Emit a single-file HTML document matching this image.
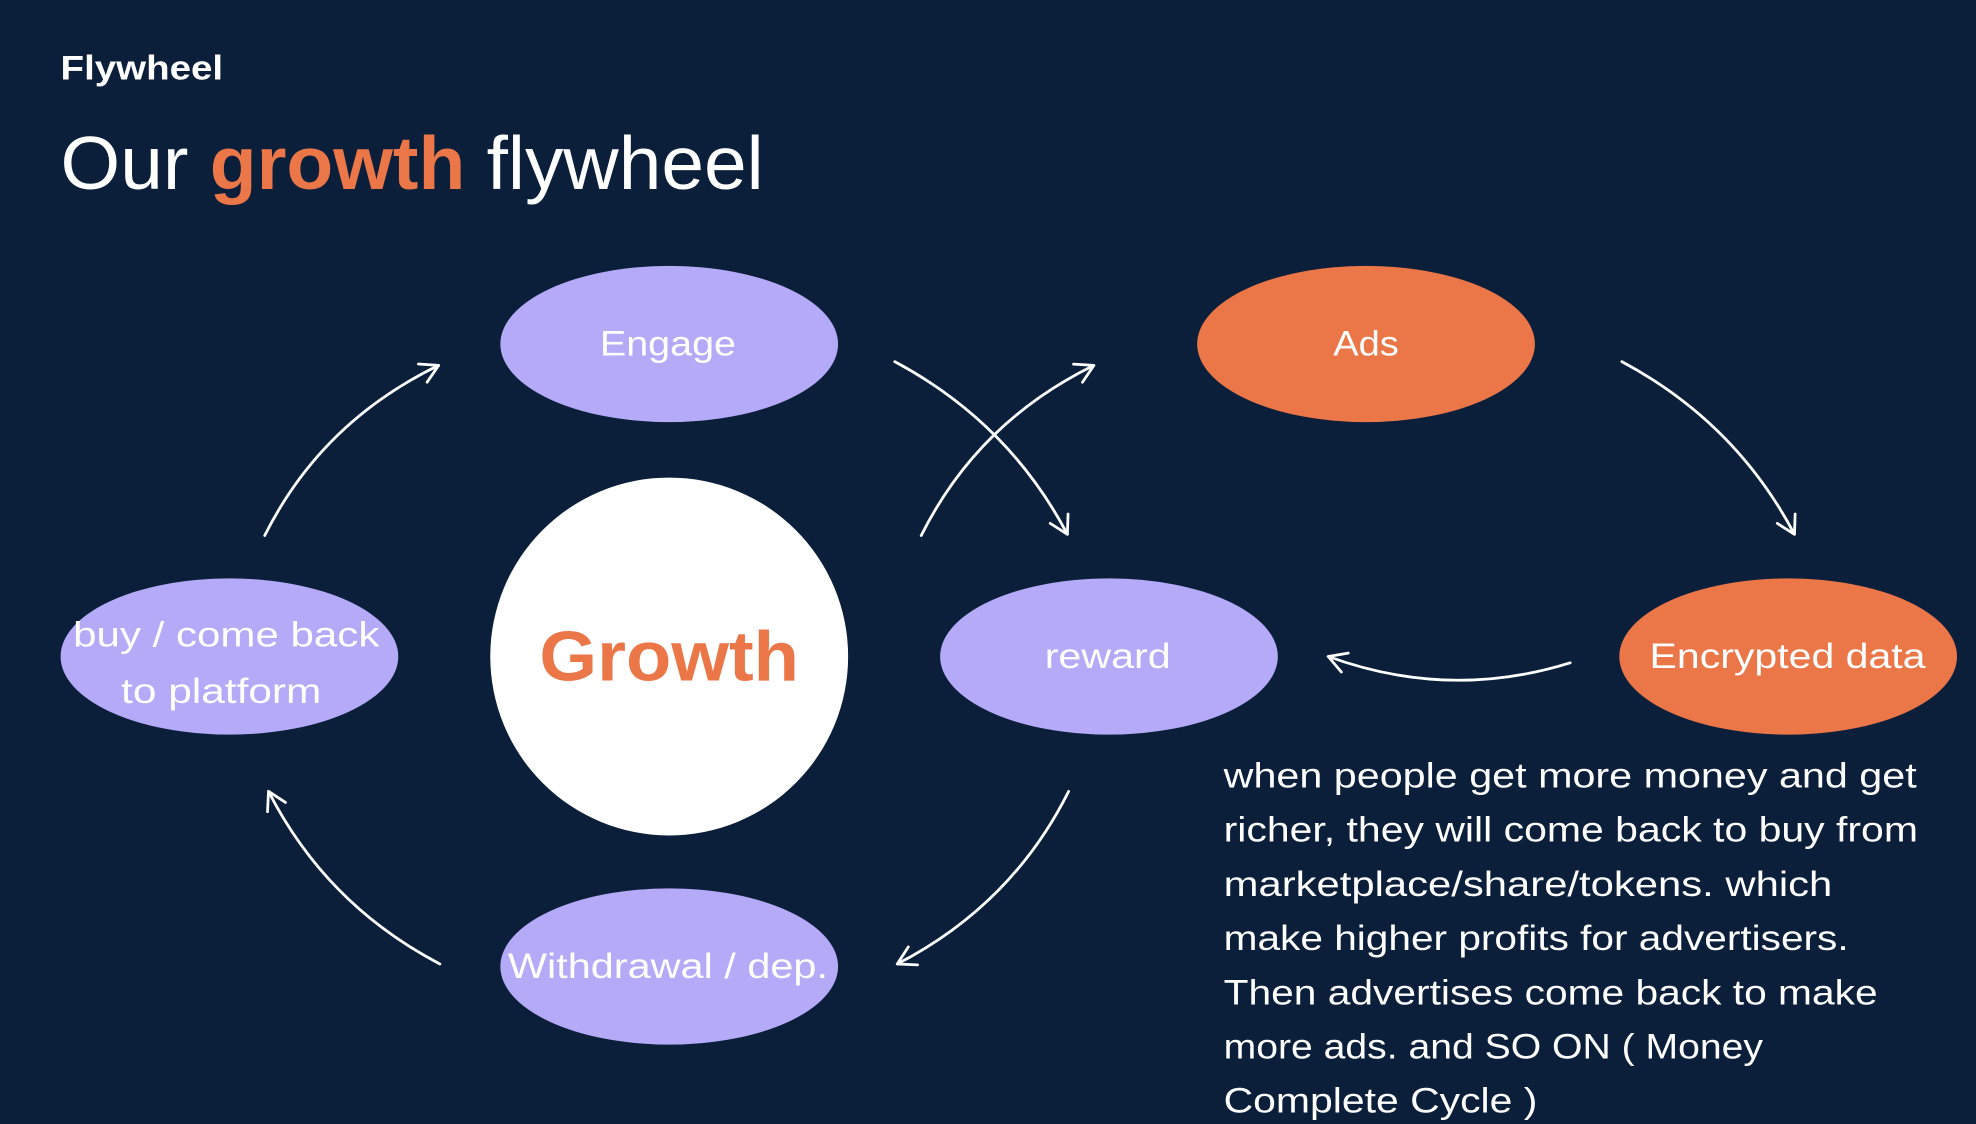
<!DOCTYPE html>
<html><head><meta charset="utf-8"><style>
html,body{margin:0;padding:0;background:#0b1f3a;}
svg{display:block}
text{font-family:"Liberation Sans",sans-serif;}
</style></head><body>
<svg width="1976" height="1124" viewBox="0 0 1568 892" xmlns="http://www.w3.org/2000/svg">
<defs>
<marker id="a" viewBox="0 0 20 20" refX="16" refY="10" markerWidth="20" markerHeight="20" markerUnits="userSpaceOnUse" orient="auto">
<path d="M2 2 L16 10 L2 18" fill="none" stroke="#fff" stroke-width="2.2" stroke-linecap="round" stroke-linejoin="round"/>
</marker>
</defs>
<rect width="1568" height="892" fill="#0b1f3a"/>
<text x="48" y="63" font-size="27" font-weight="bold" fill="#fff" textLength="129" lengthAdjust="spacingAndGlyphs">Flywheel</text>
<text x="48" y="150" font-size="60" fill="#fff" textLength="558" lengthAdjust="spacingAndGlyphs">Our <tspan fill="#eb7749" font-weight="bold">growth</tspan> flywheel</text>

<g fill="none" stroke="#fff" stroke-width="2.2" stroke-linecap="round" marker-end="url(#a)">
<path d="M210 425 Q255 335 348 290"/>
<path d="M710 287 Q800 335 847 424"/>
<path d="M731 425 Q776 335 868 290"/>
<path d="M1287 287 Q1377 335 1424 424"/>
<path d="M1246 526 Q1150 556 1054 521"/>
<path d="M848 628 Q803 718 712 765"/>
<path d="M349 765 Q259 718 213 628"/>
</g>

<ellipse cx="531" cy="273" rx="134" ry="62" fill="#b4aaf7"/>
<ellipse cx="1084" cy="273" rx="134" ry="62" fill="#eb7749"/>
<ellipse cx="182" cy="521" rx="134" ry="62" fill="#b4aaf7"/>
<ellipse cx="880" cy="521" rx="134" ry="62" fill="#b4aaf7"/>
<ellipse cx="1419" cy="521" rx="134" ry="62" fill="#eb7749"/>
<ellipse cx="531" cy="767" rx="134" ry="62" fill="#b4aaf7"/>
<circle cx="531" cy="521" r="142" fill="#fff"/>

<g fill="#fff" font-size="28">
<text x="476" y="282" textLength="108" lengthAdjust="spacingAndGlyphs">Engage</text>
<text x="1058" y="282" textLength="52" lengthAdjust="spacingAndGlyphs">Ads</text>
<text x="58" y="513" textLength="243" lengthAdjust="spacingAndGlyphs">buy / come back</text>
<text x="96" y="558" textLength="159" lengthAdjust="spacingAndGlyphs">to platform</text>
<text x="829" y="530" textLength="100" lengthAdjust="spacingAndGlyphs">reward</text>
<text x="1309" y="530" textLength="219" lengthAdjust="spacingAndGlyphs">Encrypted data</text>
<text x="403" y="776" textLength="254" lengthAdjust="spacingAndGlyphs">Withdrawal / dep.</text>
</g>
<text x="428" y="540" font-size="56" font-weight="bold" fill="#eb7749" textLength="206" lengthAdjust="spacingAndGlyphs">Growth</text>

<g fill="#fff" font-size="28">
<text x="971" y="625" textLength="550" lengthAdjust="spacingAndGlyphs">when people get more money and get</text>
<text x="971" y="668" textLength="551" lengthAdjust="spacingAndGlyphs">richer, they will come back to buy from</text>
<text x="971" y="711" textLength="483" lengthAdjust="spacingAndGlyphs">marketplace/share/tokens. which</text>
<text x="971" y="754" textLength="496" lengthAdjust="spacingAndGlyphs">make higher profits for advertisers.</text>
<text x="971" y="797" textLength="519" lengthAdjust="spacingAndGlyphs">Then advertises come back to make</text>
<text x="971" y="840" textLength="428" lengthAdjust="spacingAndGlyphs">more ads. and SO ON ( Money</text>
<text x="971" y="883" textLength="249" lengthAdjust="spacingAndGlyphs">Complete Cycle )</text>
</g>
</svg>
</body></html>
